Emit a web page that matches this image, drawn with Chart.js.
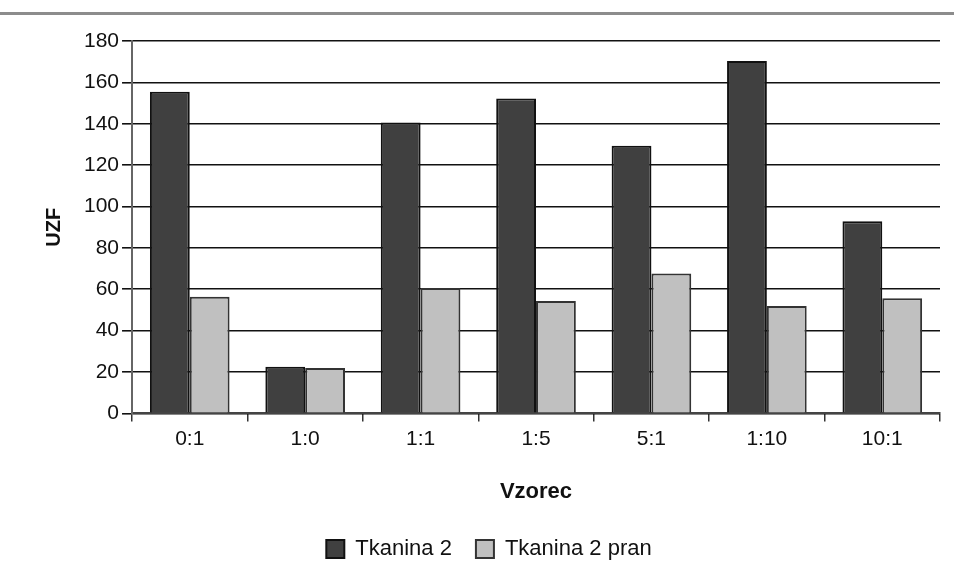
<!DOCTYPE html>
<html>
<head>
<meta charset="utf-8">
<script src="https://cdn.jsdelivr.net/npm/chart.js@4/dist/chart.umd.min.js"></script>
<style>
  html, body { margin: 0; padding: 0; background: #fff; }
  #wrap { position: relative; width: 954px; height: 582px; }
  #topline { position: absolute; left: 0; top: 12px; width: 954px; height: 3px; background: #8c8c8c; }
  canvas { position: absolute; left: 0; top: 0; }
</style>
</head>
<body>
<div id="wrap">
  <div id="topline"></div>
  <canvas id="chart" width="954" height="582"></canvas>
</div>
<script>
// Data
const categories = ["0:1", "1:0", "1:1", "1:5", "5:1", "1:10", "10:1"];
const tkanina2 = [155.5, 22.5, 140.6, 152.2, 129.4, 170.3, 92.9];
const tkanina2Pran = [56.4, 22, 60.6, 54.3, 67.6, 51.9, 55.6];
const yTicks = [0, 20, 40, 60, 80, 100, 120, 140, 160, 180];

const font = "'Liberation Sans', Arial, sans-serif";

var ctx = document.getElementById("chart").getContext("2d");
var chart = new Chart(ctx, {
  type: "bar",
  data: {
    labels: categories,
    datasets: [
      {
        label: "Tkanina 2",
        data: tkanina2,
        backgroundColor: "#404040",
        borderColor: "#111111",
        borderWidth: 2,
      },
      {
        label: "Tkanina 2 pran",
        data: tkanina2Pran,
        backgroundColor: "#c0c0c0",
        borderColor: "#333333",
        borderWidth: 2,
      },
    ],
  },
  options: {
    responsive: false,
    animation: false,
    layout: {
      padding: { top: 41, right: 14, left: 38, bottom: 12 },
    },
    datasets: {
      bar: { categoryPercentage: 0.69, barPercentage: 1.0 },
    },
    scales: {
      x: {
        grid: {
          drawOnChartArea: false,
          offset: true,
          tickLength: 8,
          color: "#333",
          lineWidth: 1.5,
        },
        border: { color: "#444", width: 2 },
        ticks: {
          color: "#111",
          font: { family: font, size: 21 },
          padding: 5,
        },
        title: {
          display: true,
          text: "Vzorec",
          color: "#111",
          font: { family: font, size: 22, weight: "bold" },
          padding: { top: 22, bottom: 9 },
        },
      },
      y: {
        min: 0,
        max: 180,
        afterBuildTicks: function (axis) {
          axis.ticks = yTicks.map(function (v) { return { value: v }; });
        },
        grid: {
          color: "#111",
          lineWidth: 1.6,
          tickLength: 10,
        },
        border: { color: "#666", width: 2 },
        ticks: {
          color: "#111",
          font: { family: font, size: 21 },
          padding: 3,
        },
        title: {
          display: true,
          text: "UZF",
          color: "#111",
          font: { family: font, size: 20, weight: "bold" },
          padding: { bottom: 15 },
        },
      },
    },
    plugins: {
      legend: {
        position: "bottom",
        labels: {
          color: "#111",
          boxWidth: 18,
          boxHeight: 18,
          padding: 24,
          font: { family: font, size: 22 },
        },
      },
      tooltip: { enabled: false },
    },
  },
});
</script>
</body>
</html>
